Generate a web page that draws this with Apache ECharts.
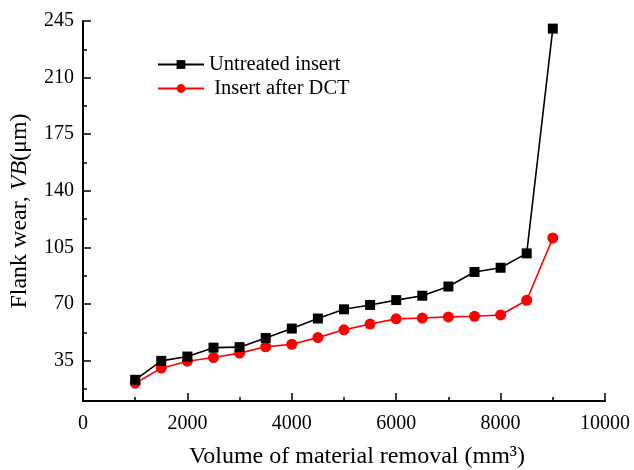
<!DOCTYPE html>
<html>
<head>
<meta charset="utf-8">
<script src="https://cdn.jsdelivr.net/npm/echarts@6/dist/echarts.min.js"></script>
<style>
  html, body { margin: 0; padding: 0; background: #fff; }
  #chart { width: 634px; height: 470px; }
</style>
</head>
<body>
<div id="chart"></div>
<script>
// Material removal volume (mm^3)
var volumes = [1000, 1500, 2000, 2500, 3000, 3500, 4000, 4500, 5000, 5500, 6000, 6500, 7000, 7500, 8000, 8500, 9000];
// Flank wear VB (µm)
var untreatedWear = [23.1, 34.8, 37.5, 43.0, 43.3, 49.0, 54.8, 61.0, 66.7, 69.4, 72.4, 75.1, 80.8, 89.8, 92.4, 101.3, 240.3];
var dctWear = [21.0, 30.3, 34.6, 36.9, 39.6, 43.5, 45.1, 49.2, 54.0, 57.6, 60.8, 61.3, 62.0, 62.4, 63.2, 72.3, 110.8];
var yMajorTicks = [35, 70, 105, 140, 175, 210, 245];
var yMinorTicks = [17.5, 52.5, 87.5, 122.5, 157.5, 192.5, 227.5];

function pairs(xs, ys) {
  return xs.map(function (x, i) { return [x, ys[i]]; });
}

var FONT = '"Liberation Serif", "Times New Roman", serif';
var chart = echarts.init(document.getElementById('chart'), null, { renderer: 'canvas' });

chart.setOption({
  animation: false,
  backgroundColor: '#fff',
  textStyle: { fontFamily: FONT, color: '#000' },
  grid: { left: 83, right: 29, top: 21, bottom: 69, containLabel: false, outerBoundsMode: 'none' },
  legend: {
    left: 152,
    top: 49,
    orient: 'vertical',
    itemWidth: 46,
    itemHeight: 11,
    itemGap: 3,
    textStyle: { fontFamily: FONT, fontSize: 20.5, color: '#000' },
    data: ['Untreated insert', ' Insert after DCT']
  },
  xAxis: {
    type: 'value',
    min: 0,
    max: 10000,
    interval: 2000,
    name: 'Volume of material removal (mm³)',
    nameLocation: 'middle',
    nameGap: 44,
    nameTextStyle: { fontFamily: FONT, fontSize: 24, color: '#000', padding: [0, 0, 0, 26] },
    axisLine: { show: true, lineStyle: { color: '#000', width: 2 } },
    axisTick: { show: true, inside: true, length: 8, lineStyle: { color: '#000', width: 1.5 } },
    minorTick: { show: true, splitNumber: 2, length: 4, lineStyle: { color: '#000', width: 1.5 } },
    axisLabel: {
      fontFamily: FONT, fontSize: 20, color: '#000', margin: 13,
      formatter: function (v) { return String(v); }
    },
    splitLine: { show: false },
    minorSplitLine: { show: false }
  },
  yAxis: [
    {
      type: 'value',
      min: 10,
      max: 245,
      name: '{n|Flank wear, }{i|VB}{n|(μm)}',
      nameLocation: 'middle',
      nameGap: 51,
      nameTextStyle: {
        fontFamily: FONT, fontSize: 24, color: '#000',
        rich: {
          n: { fontFamily: FONT, fontSize: 24, color: '#000' },
          i: { fontFamily: FONT, fontSize: 24, color: '#000', fontStyle: 'italic' }
        }
      },
      axisLine: { show: true, lineStyle: { color: '#000', width: 2 } },
      axisTick: { show: true, inside: true, length: 8, customValues: yMajorTicks, lineStyle: { color: '#000', width: 1.5 } },
      axisLabel: { fontFamily: FONT, fontSize: 20, color: '#000', margin: 9, customValues: yMajorTicks },
      splitLine: { show: false }
    },
    {
      // minor tick marks on the left axis
      type: 'value',
      position: 'left',
      min: 10,
      max: 245,
      axisLine: { show: false },
      axisTick: { show: true, inside: true, length: 4, customValues: yMinorTicks, lineStyle: { color: '#000', width: 1.5 } },
      axisLabel: { show: false },
      splitLine: { show: false }
    }
  ],
  series: [
    {
      name: 'Untreated insert',
      type: 'line',
      data: pairs(volumes, untreatedWear),
      symbol: 'rect',
      symbolSize: 10,
      itemStyle: { color: '#000' },
      lineStyle: { color: '#000', width: 1.6 },
      z: 3
    },
    {
      name: ' Insert after DCT',
      type: 'line',
      data: pairs(volumes, dctWear),
      symbol: 'circle',
      symbolSize: 11,
      itemStyle: { color: '#ff0000' },
      lineStyle: { color: '#ff0000', width: 1.6 },
      z: 2
    }
  ]
});
</script>
</body>
</html>
